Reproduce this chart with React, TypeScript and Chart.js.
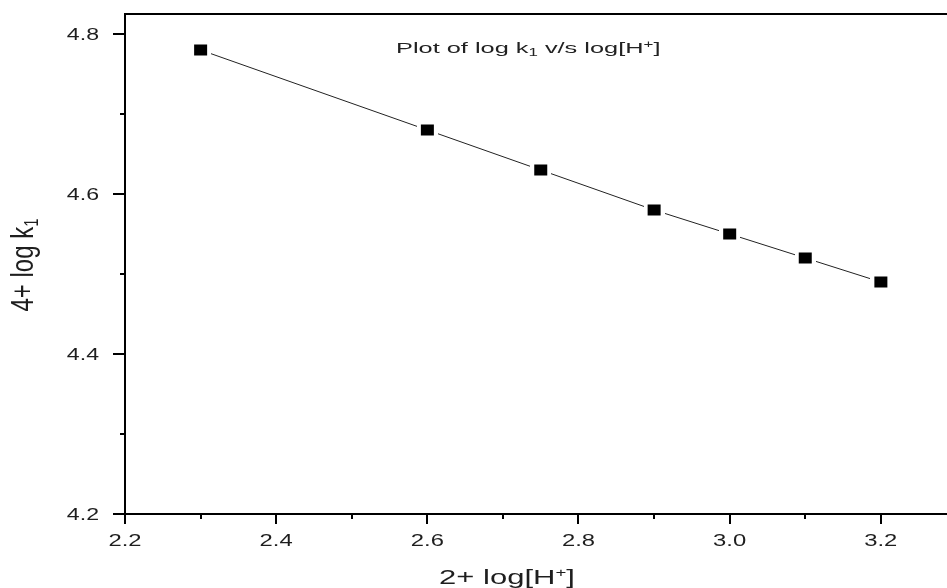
import React, { useEffect, useRef } from "react";
import { Chart, registerables } from "chart.js";

Chart.register(...registerables);

// ---- data ----
const xValues = [2.3, 2.6, 2.75, 2.9, 3.0, 3.1, 3.2];
const yValues = [4.78, 4.68, 4.63, 4.58, 4.55, 4.52, 4.49];
const xMajorTicks = [2.2, 2.4, 2.6, 2.8, 3.0, 3.2];
const xMinorTicks = [2.3, 2.5, 2.7, 2.9, 3.1];
const yMajorTicks = [4.2, 4.4, 4.6, 4.8];
const yMinorTicks = [4.3, 4.5, 4.7];
const xTickLabels = ["2.2", "2.4", "2.6", "2.8", "3.0", "3.2"];
const yTickLabels = ["4.2", "4.4", "4.6", "4.8"];

const FONT = "'Liberation Sans', Arial, sans-serif";

type Part = { t: string; size: number; dy: number };

function drawRich(
  ctx: CanvasRenderingContext2D,
  parts: Part[],
  x: number,
  y: number,
  align: "left" | "center" | "right",
  sx: number
) {
  ctx.save();
  ctx.textBaseline = "alphabetic";
  ctx.textAlign = "left";
  let w = 0;
  const widths = parts.map((p) => {
    ctx.font = `${p.size}px ${FONT}`;
    const m = ctx.measureText(p.t).width;
    w += m;
    return m;
  });
  ctx.translate(x, y);
  ctx.scale(sx, 1);
  let x0 = align === "center" ? -w / 2 : align === "right" ? -w : 0;
  parts.forEach((p, i) => {
    ctx.font = `${p.size}px ${FONT}`;
    ctx.fillText(p.t, x0, p.dy);
    x0 += widths[i];
  });
  ctx.restore();
}

function makeMarker() {
  const c = document.createElement("canvas");
  c.width = 21;
  c.height = 17;
  const g = c.getContext("2d")!;
  g.fillStyle = "#fff";
  g.fillRect(0, 0, 21, 17);
  g.fillStyle = "#000";
  g.fillRect(4, 3, 13, 11);
  return c;
}

const decor = {
  id: "decor",
  afterDraw(chart: any) {
    const ctx: CanvasRenderingContext2D = chart.ctx;
    const { left, right, top, bottom } = chart.chartArea;
    const xs = chart.scales.x;
    const ys = chart.scales.y;
    ctx.save();
    ctx.strokeStyle = "#000";
    ctx.lineWidth = 2;
    ctx.beginPath();
    ctx.moveTo(left - 1, top);
    ctx.lineTo(right + 1, top);
    ctx.stroke();

    ctx.beginPath();
    xMajorTicks.forEach((v) => {
      const px = Math.round(xs.getPixelForValue(v));
      ctx.moveTo(px, bottom);
      ctx.lineTo(px, bottom + 10);
    });
    xMinorTicks.forEach((v) => {
      const px = Math.round(xs.getPixelForValue(v));
      ctx.moveTo(px, bottom);
      ctx.lineTo(px, bottom + 5);
    });
    yMajorTicks.forEach((v) => {
      const py = Math.round(ys.getPixelForValue(v));
      ctx.moveTo(left, py);
      ctx.lineTo(left - 12, py);
    });
    yMinorTicks.forEach((v) => {
      const py = Math.round(ys.getPixelForValue(v));
      ctx.moveTo(left, py);
      ctx.lineTo(left - 5, py);
    });
    ctx.stroke();

    ctx.fillStyle = "#1e1e1e";
    xMajorTicks.forEach((v, i) => {
      const px = xs.getPixelForValue(v);
      drawRich(ctx, [{ t: xTickLabels[i], size: 17, dy: 0 }], px, bottom + 32, "center", 1.4);
    });
    yMajorTicks.forEach((v, i) => {
      const py = ys.getPixelForValue(v);
      drawRich(ctx, [{ t: yTickLabels[i], size: 17, dy: 0 }], left - 26, py + 6, "right", 1.36);
    });

    // x axis title
    drawRich(
      ctx,
      [
        { t: "2+ log[H", size: 20, dy: 0 },
        { t: "+", size: 12, dy: -7 },
        { t: "]", size: 20, dy: 0 },
      ],
      507,
      584,
      "center",
      1.55
    );

    // y axis title (rotated)
    ctx.save();
    ctx.translate(33, 265);
    ctx.scale(1.3, 1);
    ctx.rotate(-Math.PI / 2);
    drawRich(
      ctx,
      [
        { t: "4+ log k", size: 24, dy: 0 },
        { t: "1", size: 15, dy: 4 },
      ],
      0,
      0,
      "center",
      1
    );
    ctx.restore();

    // in-plot title
    ctx.fillStyle = "#222";
    drawRich(
      ctx,
      [
        { t: "Plot of log k", size: 15, dy: 0 },
        { t: "1", size: 10, dy: 3 },
        { t: " v/s log[H", size: 15, dy: 0 },
        { t: "+", size: 10, dy: -5 },
        { t: "]", size: 15, dy: 0 },
      ],
      396,
      53,
      "left",
      1.69
    );
    ctx.restore();
  },
};

export default function App() {
  const ref = useRef<HTMLCanvasElement | null>(null);

  useEffect(() => {
    document.body.style.margin = "0";
    const canvas = ref.current;
    if (!canvas) return;
    const marker = makeMarker();
    const chart = new Chart(canvas, {
      type: "line",
      data: {
        datasets: [
          {
            data: xValues.map((x, i) => ({ x, y: yValues[i] })),
            borderColor: "#222",
            borderWidth: 1,
            tension: 0,
            fill: false,
            pointStyle: marker as any,
            pointRadius: 0.2,
            pointHoverRadius: 0.2,
            pointBorderWidth: 0,
            pointHoverBorderWidth: 0,
          },
        ],
      },
      options: {
        animation: false,
        responsive: false,
        events: [],
        layout: { padding: { top: 14, left: 0, right: 0, bottom: 0 } },
        plugins: {
          legend: { display: false },
          tooltip: { enabled: false },
          title: { display: false },
        },
        scales: {
          x: {
            type: "linear",
            min: 2.2,
            max: 3.2873,
            grid: { display: false, drawTicks: false },
            border: { display: true, color: "#000", width: 2 },
            ticks: { display: false },
            afterFit: (s: any) => {
              s.height = 74;
            },
          },
          y: {
            type: "linear",
            min: 4.2,
            max: 4.825,
            grid: { display: false, drawTicks: false },
            border: { display: true, color: "#000", width: 2 },
            ticks: { display: false },
            afterFit: (s: any) => {
              s.width = 125;
            },
          },
        },
      },
      plugins: [decor],
    });
    return () => chart.destroy();
  }, []);

  return (
    <div style={{ width: 947, height: 588, background: "#fff" }}>
      <canvas ref={ref} width={947} height={588} style={{ display: "block" }} />
    </div>
  );
}
